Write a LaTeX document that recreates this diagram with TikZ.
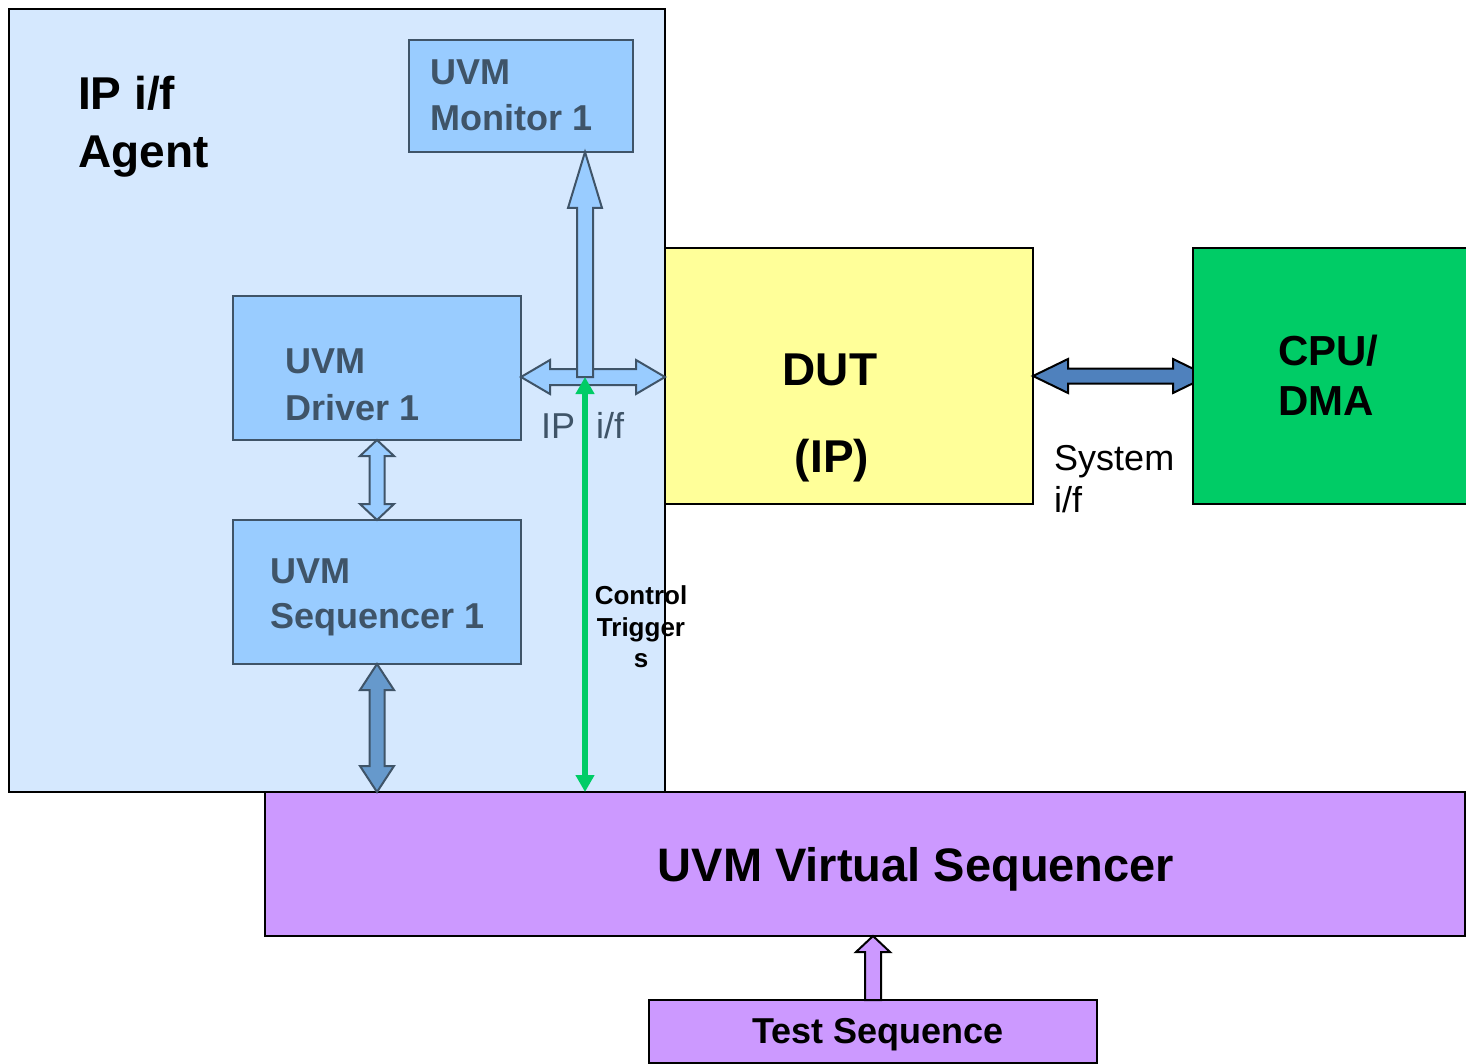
\documentclass[tikz,border=0pt]{standalone}
\usepackage{fontspec}
\setmainfont{Liberation Sans}
\usetikzlibrary{calc,arrows.meta}
\definecolor{agentfill}{HTML}{D5E8FE}
\definecolor{boxfill}{HTML}{99CCFF}
\definecolor{slate}{HTML}{3F5468}
\definecolor{dutfill}{HTML}{FFFF99}
\definecolor{cpufill}{HTML}{00CC66}
\definecolor{vseqfill}{HTML}{CC99FF}
\definecolor{trig}{HTML}{00CC66}
\definecolor{sysarrow}{HTML}{4F81BD}
\definecolor{seqarrow}{HTML}{6699CC}
\newcommand\dblblockarrow[6]{%
 \path (#1) coordinate (ba-a) (#2) coordinate (ba-b);
 \path ($(ba-a)!#5!(ba-b)$) coordinate (ba-p) ($(ba-b)!#5!(ba-a)$) coordinate (ba-q);
 \filldraw[#6] (ba-a) -- ($(ba-p)!#4!90:(ba-b)$) -- ($(ba-p)!#3!90:(ba-b)$)
  -- ($(ba-q)!#3!-90:(ba-a)$) -- ($(ba-q)!#4!-90:(ba-a)$) -- (ba-b)
  -- ($(ba-q)!#4!90:(ba-a)$) -- ($(ba-q)!#3!90:(ba-a)$)
  -- ($(ba-p)!#3!-90:(ba-b)$) -- ($(ba-p)!#4!-90:(ba-b)$) -- cycle;}
\newcommand\sglblockarrow[6]{%
 \path (#1) coordinate (ba-a) (#2) coordinate (ba-b);
 \path ($(ba-b)!#5!(ba-a)$) coordinate (ba-q);
 \filldraw[#6] ($(ba-a)!#3!90:(ba-b)$) -- ($(ba-q)!#3!-90:(ba-a)$) -- ($(ba-q)!#4!-90:(ba-a)$)
  -- (ba-b) -- ($(ba-q)!#4!90:(ba-a)$) -- ($(ba-q)!#3!90:(ba-a)$)
  -- ($(ba-a)!#3!-90:(ba-b)$) -- cycle;}
\begin{document}
\begin{tikzpicture}[x=1pt,y=-1pt,
  box/.style={rectangle,draw,anchor=north west,inner sep=0pt,outer sep=0pt,line width=2pt},
  agentbox/.style={box,fill=agentfill,draw=black},
  uvmbox/.style={box,fill=boxfill,draw=slate},
  uvmtxt/.style={anchor=base west,inner sep=0pt,text=slate,font=\fontsize{36}{36}\selectfont\bfseries},
  bigtxt/.style={anchor=base west,inner sep=0pt,text=black,font=\fontsize{46}{46}\selectfont\bfseries},
  lightarrow/.style={fill=boxfill,draw=slate,line width=2pt},
  midarrow/.style={fill=seqarrow,draw=slate,line width=2pt},
  sysarr/.style={fill=sysarrow,draw=black,line width=2pt},
  purparrow/.style={fill=vseqfill,draw=black,line width=2pt}]
\useasboundingbox (0,0) rectangle (1466,1064);
\fill[white] (0,0) rectangle (1466,1064);

% boxes
\node[agentbox,minimum width=656pt,minimum height=783pt] (agent) at (9,9) {};
\node[box,fill=dutfill,draw=black,minimum width=368pt,minimum height=256pt] (dut) at (665,248) {};
\node[box,fill=vseqfill,draw=black,minimum width=1200pt,minimum height=144pt] (vseq) at (265,792) {};
\node[box,fill=vseqfill,draw=black,minimum width=448pt,minimum height=63pt] (ts) at (649,1000) {};
\node[uvmbox,minimum width=224pt,minimum height=112pt] (mon) at (409,40) {};
\node[uvmbox,minimum width=288pt,minimum height=144pt] (drv) at (233,296) {};
\node[uvmbox,minimum width=288pt,minimum height=144pt] (seq) at (233,520) {};

\coordinate (ipif) at (585,377);

% block arrows
\dblblockarrow{drv.east |- ipif}{dut.west |- ipif}{8pt}{17pt}{29pt}{lightarrow}
\sglblockarrow{ipif}{mon.south -| ipif}{8pt}{17pt}{56pt}{lightarrow}
\dblblockarrow{drv.south}{seq.north}{7.5pt}{17pt}{16pt}{lightarrow}
\dblblockarrow{seq.south}{seq.south |- vseq.north}{7.5pt}{17pt}{26pt}{midarrow}
\sglblockarrow{ts.north}{ts.north |- vseq.south}{8pt}{17pt}{16pt}{purparrow}
\coordinate (cpuend) at ($(dut.east)+(175,0)$);
\dblblockarrow{dut.east}{cpuend}{7.5pt}{17pt}{35pt}{sysarr}
\node[box,fill=cpufill,draw=black,minimum width=275pt,minimum height=256pt] (cpu) at (1193,248) {};

% control trigger arrow
\draw[trig,line width=5.5pt,{Triangle[width=18pt,length=17pt]}-{Triangle[width=18pt,length=17pt]}]
  (ipif) -- (vseq.north -| ipif);

% texts
\node[bigtxt] (agentl1) at (78,110) {IP i/f};
\node[bigtxt] (agentl2) at (78,168) {Agent};
\node[uvmtxt] (monl1) at (430,85) {UVM};
\node[uvmtxt] (monl2) at (430,131) {Monitor 1};
\node[uvmtxt] (drvl1) at (285,373) {UVM};
\node[uvmtxt] (drvl2) at (285,420) {Driver 1};
\node[uvmtxt] (seql1) at (270,583) {UVM};
\node[uvmtxt] (seql2) at (270,628) {Sequencer 1};
\node[anchor=base west,inner sep=0pt,text=slate,font=\fontsize{36}{36}\selectfont] (ipifl) at (541,438) {IP\hspace{21pt}i/f};
\node[anchor=base,inner sep=0pt,font=\fontsize{46}{46}\selectfont\bfseries] (dutl1) at (830,385) {DUT};
\node[anchor=base,inner sep=0pt,font=\fontsize{46}{46}\selectfont\bfseries] (dutl2) at (832,472) {(IP)};
\node[anchor=base west,inner sep=0pt,font=\fontsize{42}{42}\selectfont\bfseries] (cpul1) at (1278,365) {CPU/};
\node[anchor=base west,inner sep=0pt,font=\fontsize{42}{42}\selectfont\bfseries] (cpul2) at (1278,415) {DMA};
\node[anchor=base west,inner sep=0pt,font=\fontsize{36}{36}\selectfont] (sysl1) at (1054,470) {System};
\node[anchor=base west,inner sep=0pt,font=\fontsize{36}{36}\selectfont] (sysl2) at (1054,512) {i/f};
\node[anchor=base,inner sep=0pt,font=\fontsize{26}{26}\selectfont\bfseries] (trg1) at (641,604) {Control};
\node[anchor=base,inner sep=0pt,font=\fontsize{26}{26}\selectfont\bfseries] (trg2) at (641,636) {Trigger};
\node[anchor=base,inner sep=0pt,font=\fontsize{26}{26}\selectfont\bfseries] (trg3) at (641,667) {s};
\node[anchor=base,inner sep=0pt,font=\fontsize{47}{47}\selectfont\bfseries] (vseql) at (916,881) {UVM Virtual Sequencer};
\node[anchor=base,inner sep=0pt,font=\fontsize{36}{36}\selectfont\bfseries] (tsl) at (878,1043) {Test Sequence};
\end{tikzpicture}
\end{document}
